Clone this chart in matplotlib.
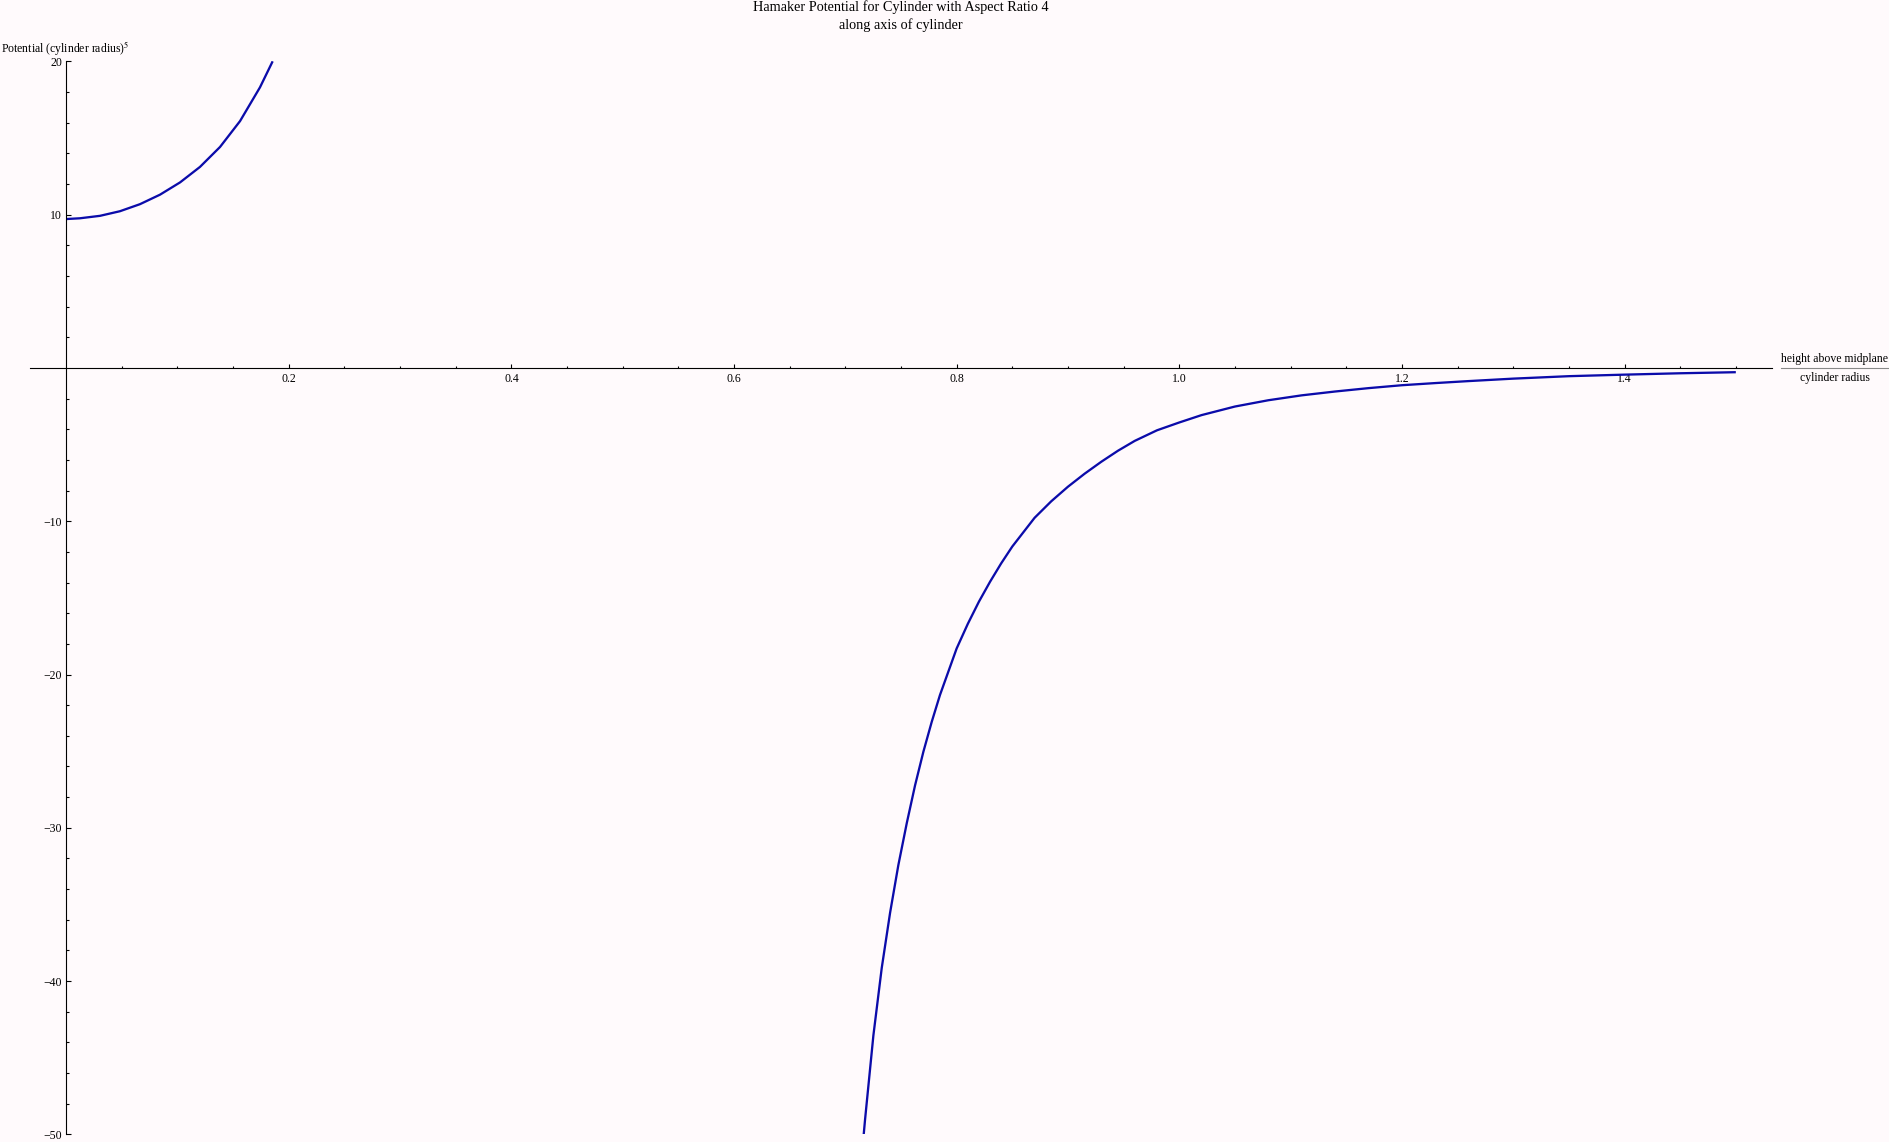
import matplotlib
matplotlib.use('Agg')

import numpy as np
import matplotlib.pyplot as plt
from matplotlib.lines import Line2D

# values
# branch inside the cylinder (positive potential)
x_inside = [0.0, 0.0124, 0.0304, 0.0483, 0.0663, 0.0843, 0.1023, 0.1202, 0.1382,
            0.1562, 0.1741, 0.1855]
y_inside = [9.71, 9.76, 9.92, 10.22, 10.68, 11.30, 12.10, 13.11, 14.41,
            16.10, 18.30, 20.0]

# branch outside the cylinder (negative potential)
x_outside = [0.7165, 0.7177, 0.7252, 0.7327, 0.7402, 0.7476, 0.7552, 0.7626, 0.7701,
             0.7776, 0.7850, 0.800, 0.810, 0.820, 0.830, 0.840, 0.850, 0.870, 0.885,
             0.900, 0.915, 0.930, 0.945, 0.960, 0.980, 1.000, 1.020, 1.050, 1.080,
             1.110, 1.140, 1.170, 1.200, 1.230, 1.260, 1.300, 1.350, 1.400, 1.450,
             1.500]
y_outside = [-50.0, -49.04, -43.54, -39.14, -35.54, -32.44, -29.69, -27.24, -25.04,
             -23.09, -21.34, -18.30, -16.70, -15.25, -13.95, -12.75, -11.65, -9.78, -8.70,
             -7.75, -6.90, -6.12, -5.40, -4.76, -4.07, -3.56, -3.08, -2.52, -2.11,
             -1.79, -1.54, -1.32, -1.13, -0.99, -0.86, -0.70, -0.54, -0.44, -0.35,
             -0.28]

title_lines = ['Hamaker Potential for Cylinder with Aspect Ratio 4', 'along axis of cylinder']
x_major = [0.2, 0.4, 0.6, 0.8, 1.0, 1.2, 1.4]
y_major = [-50, -40, -30, -20, -10, 10, 20]

W, H = 1889, 1142
BG = '#fffafc'
LINE = '#0b0baa'
SERIF = 'Liberation Serif'

plt.rcParams['font.family'] = [SERIF, 'DejaVu Serif']
plt.rcParams['mathtext.fontset'] = 'stix'


def px(x, y):
  # pixel position (from top left) -> figure fraction
  return x / W, 1 - y / H


fig = plt.figure(figsize=(W / 100, H / 100), dpi=100, facecolor=BG)

# axes box: x from -0.0325 to 1.5325, y from -50 to 20
left, top = px(30, 61.3)
right, bottom = px(1772, 1134.4)
ax = fig.add_axes([left, bottom, right - left, top - bottom], facecolor=BG)
ax.set_xlim(-0.0325, 1.5325)
ax.set_ylim(-50, 20)

ax.plot(x_inside, y_inside, color=LINE, lw=1.65, solid_capstyle='butt',
        solid_joinstyle='round')
ax.plot(x_outside, y_outside, color=LINE, lw=1.65, solid_capstyle='butt',
        solid_joinstyle='round')

# axes crossing at the origin, Mathematica style
for side in ['top', 'right']:
  ax.spines[side].set_visible(False)
ax.spines['left'].set_position(('data', 0))
ax.spines['bottom'].set_position(('data', 0))
for side in ['left', 'bottom']:
  ax.spines[side].set_linewidth(0.8)

ax.set_xticks(x_major)
ax.set_xticklabels(['%.1f' % v for v in x_major])
ax.set_xticks([v for v in np.arange(0.05, 1.51, 0.05) if round(v / 0.2, 6) % 1 != 0], minor=True)
ax.set_yticks(y_major)
ax.set_yticklabels(['\u2212%d' % -v if v < 0 else '%d' % v for v in y_major])
ax.set_yticks([v for v in range(-48, 20, 2) if v % 10 != 0], minor=True)

ax.tick_params(axis='both', which='both', direction='in', width=0.8, colors='black',
               labelsize=8.5)
ax.tick_params(axis='x', which='major', length=3.0, pad=3.5)
ax.tick_params(axis='x', which='minor', length=1.6)
ax.tick_params(axis='y', which='major', length=3.6, pad=3)
ax.tick_params(axis='y', which='minor', length=1.8)

# title, two centred lines
fig.text(*px(901, 11), title_lines[0], ha='center', va='baseline', fontsize=10.3)
fig.text(*px(901, 29.3), title_lines[1], ha='center', va='baseline', fontsize=10.3)

# y label at the top left
fig.text(*px(1, 52), r'Potential (cylinder radius)$^{5}$', ha='left', va='baseline',
         fontsize=8.5)

# x label as a fraction at the right end of the axis
fig.text(*px(1834.7, 361.7), 'height above midplane', ha='center', va='baseline',
         fontsize=8.5)
fig.text(*px(1835, 380.7), 'cylinder radius', ha='center', va='baseline', fontsize=8.5)
x0, yl = px(1781, 367.7)
x1, _ = px(1888, 367.7)
fig.add_artist(Line2D([x0, x1], [yl, yl], color='#888888', lw=0.8,
                      transform=fig.transFigure))

fig.savefig('out.png', dpi=100, facecolor=BG)
